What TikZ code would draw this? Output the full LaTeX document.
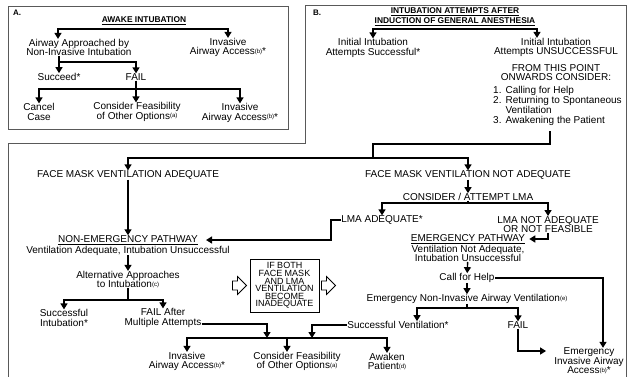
\documentclass[tikz,border=0pt]{standalone}
\usepackage{fontspec}
\setmainfont{Liberation Sans}
\usetikzlibrary{positioning,arrows.meta}
% small raised note marks
\newcommand\notemark[1]{\raisebox{0.3ex}{\fontsize{6}{6}\selectfont(#1)}}

\begin{document}
\begin{tikzpicture}[
    x=1pt, y=-1pt,
    node distance=4pt,
    >={Triangle[width=7pt,length=6pt]},
    every node/.style={inner sep=0pt, align=center, font=\fontsize{10}{9.5}\selectfont},
    headline/.style={font=\fontsize{8.4}{10}\selectfont\bfseries},
    panel/.style={font=\fontsize{8}{9}\selectfont\bfseries},
    flow/.style={line width=1.4pt},
    boxline/.style={draw=black!65, line width=0.8pt},
    warnbox/.style={draw, line width=0.9pt, minimum width=69pt, minimum height=53pt,
      font=\fontsize{9}{7.6}\selectfont},
    hollow/.style={draw, line width=0.8pt, fill=white}
  ]
  \useasboundingbox (0,0) rectangle (631,376);

  % Frames
  \draw[boxline] (8,6) rectangle (288,129);
  \draw[boxline] (8,380) -- (8,143) -- (305,143) -- (305,5) -- (626,5) -- (626,380);

  % Panel A
  \node[panel] (labA) at (17,13) {A.};
  \node[headline] (titA) at (144,21) {\underline{AWAKE INTUBATION}};
  \node (airway) at (79,47.5) {Airway Approached by\\Non-Invasive Intubation};
  \node (invA) at (228,47.5) {Invasive\\Airway Access\notemark{b}*};
  \node (succA) at (59,77) {Succeed*};
  \node (failA) at (136,77) {FAIL};
  \node (cancel) at (39,112) {Cancel\\Case};
  \node (feasA) at (137,112) {Consider Feasibility\\of Other Options\notemark{a}};
  \node (invA2) at (240,113) {Invasive\\Airway Access\notemark{b}*};

  % Panel B
  \node[panel] (labB) at (317,13) {B.};
  \node[headline] (titB) at (455,17) {\underline{INTUBATION ATTEMPTS AFTER}\\\underline{INDUCTION OF GENERAL ANESTHESIA}};
  \node (initS) at (373,48) {Initial Intubation\\Attempts Successful*};
  \node (initU) at (556,47.5) {Initial Intubation\\Attempts UNSUCCESSFUL};
  \node[below=7pt of initU] (onwards) {FROM THIS POINT\\ONWARDS CONSIDER:};
  \node[anchor=north west, align=left] (steps) at (493,86)
    {\begin{tabular}{@{}l@{\hspace{4pt}}l@{}}1. & Calling for Help\\ 2. & Returning to Spontaneous\\ & Ventilation\\ 3. & Awakening the Patient\end{tabular}};

  \node (fmA) at (128,175) {FACE MASK VENTILATION ADEQUATE};
  \node (fmN) at (468,175) {FACE MASK VENTILATION NOT ADEQUATE};
  \node (lma) at (468,197) {CONSIDER / ATTEMPT LMA};
  \node (lmaOK) at (382,220) {LMA ADEQUATE*};
  \node (lmaNo) at (548,224.5) {LMA NOT ADEQUATE\\OR NOT FEASIBLE};
  \node (nonem) at (128,240) {\underline{NON-EMERGENCY PATHWAY}};
  \node[below=1pt of nonem] (nonemS) {Ventilation Adequate, Intubation Unsuccessful};
  \node (emer) at (468,239) {\underline{EMERGENCY PATHWAY}};
  \node[below=1pt of emer] (emerS) {Ventilation Not Adequate,\\Intubation Unsuccessful};
  \node (alt) at (128,279.5) {Alternative Approaches\\to Intubation\notemark{c}};
  \node (succI) at (64,318) {Successful\\Intubation*};
  \node (failM) at (163,318) {FAIL After\\Multiple Attempts};
  \node[warnbox] (ifbox) at (284.5,285.5) {IF BOTH\\FACE MASK\\AND LMA\\VENTILATION\\BECOME\\INADEQUATE};
  \node (callH) at (467,278) {Call for Help};
  \node (enav) at (467,299) {Emergency Non-Invasive Airway Ventilation\notemark{e}};
  \node (succV) at (398,325) {Successful Ventilation*};
  \node (failE) at (518,325) {FAIL};
  \node (invB) at (187,361.5) {Invasive\\Airway Access\notemark{b}*};
  \node (feasB) at (297,361.5) {Consider Feasibility\\of Other Options\notemark{a}};
  \node (awaken) at (387,361.5) {Awaken\\Patient\notemark{d}};
  \node (eiaa) at (589,361) {Emergency\\Invasive Airway\\Access\notemark{b}*};

  % Junctions
  \coordinate (jA) at (144,29);
  \coordinate (jA2) at (59,62);
  \coordinate (jA3) at (137,89);
  \coordinate (jB) at (455,29);
  \coordinate (drop) at (550,131);
  \coordinate (kink) at (373,144);
  \coordinate (jFM) at (373,158);
  \coordinate (jLMA) at (468,203);
  \coordinate (jAlt) at (128,300);
  \coordinate (jEnav) at (467,308);
  \coordinate (jBot) at (287,338);

  % Arrows, panel A
  \draw[flow,<->] ([xshift=-21pt]airway.north) |- (jA) -| (invA.north);
  \draw[flow,->] (airway.south -| succA) -- (succA.north);
  \draw[flow,->] (jA2) -| (failA.north);
  \draw[flow,->] (failA.south) -- (failA.south |- feasA.north);
  \draw[flow,<->] (cancel.north) |- (jA3) -| (invA2.north);

  % Arrows, panel B
  \draw[flow,<->] (initS.north) |- (jB) -| ([xshift=-19pt]initU.north);
  \draw[flow] (drop) |- (kink) -- (jFM);
  \draw[flow,<->] (fmA.north) |- (jFM) -| (fmN.north);
  \draw[flow,->] (fmA) -- (nonem);
  \draw[flow,->] (fmN) -- (lma);
  \draw[flow] (lma) -- (jLMA);
  \draw[flow,<->] (lmaOK.north) |- (jLMA) -| (lmaNo.north);
  \draw[flow,->] (lmaOK.west) -- ++(-10,0) |- ([xshift=8pt]nonem.east);
  \draw[flow,->] (lmaNo.south) |- ([xshift=4pt]emer.east);
  \draw[flow,->] (nonemS) -- (alt);
  \draw[flow] (alt) -- (jAlt);
  \draw[flow,<->] (succI.north) |- (jAlt) -| (failM.north);
  \draw[flow,<->] (invB.north) |- (jBot) -| (awaken.north);
  \draw[flow,->] (jBot) -- (jBot |- feasB.north);
  \draw[flow,->] ([yshift=-6pt]failM.east) -| ([xshift=-20pt]jBot);
  \draw[flow,->] (succV.west) -| ([xshift=25pt]jBot);
  \draw[flow,->] (emerS) -- (callH);
  \draw[flow,->] (callH) -- (enav);
  \draw[flow,->] (callH.east) -| ([xshift=14pt]eiaa.north);
  \draw[flow] (enav) -- (jEnav);
  \draw[flow,<->] ([xshift=19pt]succV.north) |- (jEnav) -| (failE.north);
  \draw[flow,->] (failE.south) |- ([xshift=-8pt,yshift=10pt]eiaa.west);

  % Hollow pointers beside the box
  \coordinate (tipL) at ([xshift=-3pt]ifbox.west);
  \coordinate (tipR) at ([xshift=16pt]ifbox.east);
  \foreach \t in {tipL,tipR}
    \draw[hollow] (\t) -- ++(-9,-9) -- ++(0,4.5) -- ++(-5,0) -- ++(0,9) -- ++(5,0) -- ++(0,4.5) -- cycle;
\end{tikzpicture}
\end{document}
